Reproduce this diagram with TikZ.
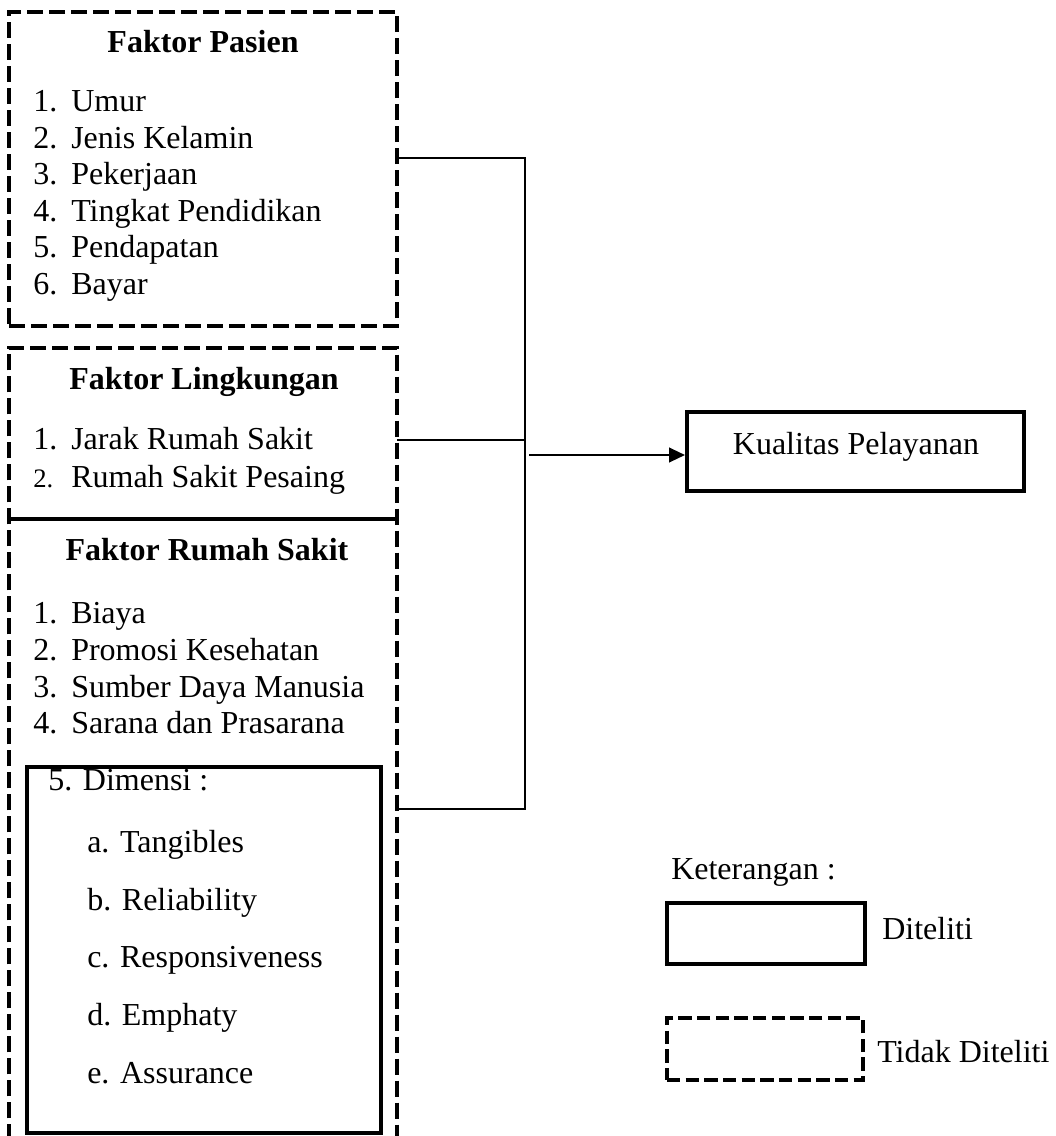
\documentclass[tikz,border=0pt]{standalone}
\usepackage{fontspec}
\setmainfont{Liberation Serif}
\usetikzlibrary{arrows.meta}
\begin{document}
\begin{tikzpicture}[x=0.75pt,y=-0.75pt,
  txt/.style={inner sep=0pt, anchor=base west, font=\fontsize{24}{28}\selectfont},
  ttl/.style={inner sep=0pt, anchor=base, font=\fontsize{24}{28}\selectfont\bfseries},
  dbox/.style={draw, line width=3pt, dash pattern=on 12pt off 4.5pt, inner sep=0pt},
  dline/.style={line width=3pt, dash pattern=on 12pt off 4.5pt},
  sbox/.style={draw, line width=3pt, inner sep=0pt},
  conn/.style={draw, line width=1.6pt},
  area/.style={inner sep=0pt},
]
\useasboundingbox (0,0) rectangle (1056,1136);
\newcommand{\itm}[2]{\makebox[28.5pt][l]{#1}#2}

% boxes
\node[dbox, minimum width=291pt, minimum height=235.5pt] (pasien) at (203,169) {};
\node[area, minimum width=291pt, minimum height=465.75pt] (rs) at (203,829.5) {};
\node[area, minimum width=291pt, minimum height=128.25pt] (lingk) at (203,433.5) {};
\draw[dline] (rs.south west) -- (lingk.north west) -- (lingk.north east) -- (rs.south east);
\draw[line width=3pt] (lingk.south west) -- (lingk.south east);
\node[sbox, line width=2.8pt, minimum width=265.5pt, minimum height=274.5pt] (dim) at (204,950) {};
\node[sbox, minimum width=252.75pt, minimum height=59.25pt] (kual) at (855.5,451.5) {};
\node[sbox, minimum width=148.5pt, minimum height=45.75pt] (legs) at (766,933.5) {};
\node[dbox, dash pattern=on 10pt off 4pt, minimum width=147pt, minimum height=46.5pt] (legd) at (765,1049) {};

% Faktor Pasien
\node[ttl] (tp) at (203,52) {Faktor Pasien};
\node[txt] (p1) at (33,111) {\itm{1.}{Umur}};
\node[txt] (p2) at (33,148) {\itm{2.}{Jenis Kelamin}};
\node[txt] (p3) at (33,184) {\itm{3.}{Pekerjaan}};
\node[txt] (p4) at (33,221) {\itm{4.}{Tingkat Pendidikan}};
\node[txt] (p5) at (33,257) {\itm{5.}{Pendapatan}};
\node[txt] (p6) at (33,294) {\itm{6.}{Bayar}};

% Faktor Lingkungan
\node[ttl] (tl) at (204,389) {Faktor Lingkungan};
\node[txt] (l1) at (33,449) {\itm{1.}{Jarak Rumah Sakit}};
\node[txt] (l2) at (33,487) {\itm{{\fontsize{20}{22}\selectfont 2.}}{Rumah Sakit Pesaing}};

% Faktor Rumah Sakit
\node[ttl] (tr) at (207,560) {Faktor Rumah Sakit};
\node[txt] (r1) at (33,623) {\itm{1.}{Biaya}};
\node[txt] (r2) at (33,660) {\itm{2.}{Promosi Kesehatan}};
\node[txt] (r3) at (33,697) {\itm{3.}{Sumber Daya Manusia}};
\node[txt] (r4) at (33,733) {\itm{4.}{Sarana dan Prasarana}};
\node[txt] (r5) at (48,790) {5. Dimensi :};
\node[txt] (da) at (87,852) {a. Tangibles};
\node[txt] (db) at (87,910) {b. Reliability};
\node[txt] (dc) at (87,967) {c. Responsiveness};
\node[txt] (dd) at (87,1025) {d. Emphaty};
\node[txt] (de) at (87,1083) {e. Assurance};

% Kualitas
\node[inner sep=0pt, anchor=base, font=\fontsize{24}{28}\selectfont] (kt) at (856,454) {Kualitas Pelayanan};

% Legend
\node[txt] (ket) at (671,879) {Keterangan :};
\node[txt] (dit) at (882,939) {Diteliti};
\node[txt] (tdit) at (877,1062) {Tidak Diteliti};

% connectors
\coordinate (j1) at (525,158);
\coordinate (j2) at (525,440);
\coordinate (j3) at (525,809);
\coordinate (a0) at (529,455);
\draw[conn] (pasien.east |- j1) -- (j1) -- (j3) -- (rs.east |- j3);
\draw[conn] (lingk.east |- j2) -- (j2);
\draw[conn, -{Triangle[length=12pt,width=11pt]}] (a0) -- (kual.west |- a0);
\end{tikzpicture}
\end{document}
